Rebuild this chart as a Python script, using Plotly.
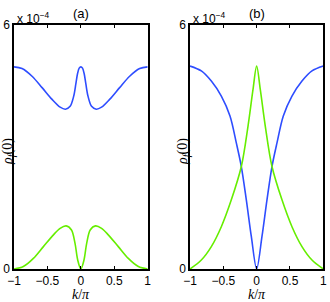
import plotly.graph_objects as go
from plotly.subplots import make_subplots

# Panel (a)
ka_blue = [-1, -0.88, -0.73, -0.58, -0.43, -0.31, -0.23, -0.16, -0.107, -0.075, -0.05, -0.025, 0,
           0.025, 0.05, 0.075, 0.107, 0.16, 0.23, 0.31, 0.43, 0.58, 0.73, 0.88, 1]
va_blue = [4.97, 4.93, 4.74, 4.46, 4.17, 3.98, 3.93, 4.00, 4.25, 4.55, 4.80, 4.94, 4.97,
           4.94, 4.80, 4.55, 4.25, 4.00, 3.93, 3.98, 4.17, 4.46, 4.74, 4.93, 4.97]
ka_green = [-1, -0.86, -0.71, -0.56, -0.41, -0.31, -0.22, -0.14, -0.087, -0.047, 0,
            0.047, 0.087, 0.14, 0.22, 0.31, 0.41, 0.56, 0.71, 0.86, 1]
va_green = [0.0, 0.06, 0.26, 0.55, 0.84, 1.00, 1.06, 0.96, 0.63, 0.22, 0.0,
            0.22, 0.63, 0.96, 1.06, 1.00, 0.84, 0.55, 0.26, 0.06, 0.0]

# Panel (b)
kb_blue = [-1, -0.83, -0.68, -0.53, -0.40, -0.305, -0.23, -0.155, -0.08, 0,
           0.08, 0.155, 0.23, 0.305, 0.40, 0.53, 0.68, 0.83, 1]
vb_blue = [4.99, 4.87, 4.62, 4.25, 3.76, 3.10, 2.52, 1.70, 0.80, 0.0,
           0.80, 1.70, 2.52, 3.10, 3.76, 4.25, 4.62, 4.87, 4.99]
kb_green = [-1, -0.83, -0.68, -0.53, -0.38, -0.23, -0.13, -0.055, 0,
            0.055, 0.13, 0.23, 0.38, 0.53, 0.68, 0.83, 1]
vb_green = [0.0, 0.22, 0.55, 1.04, 1.70, 2.52, 3.51, 4.41, 4.99,
            4.41, 3.51, 2.52, 1.70, 1.04, 0.55, 0.22, 0.0]

xtick_vals = [-1, -0.5, 0, 0.5, 1]
xtick_text = ["\u22121", "\u22120.5", "0", "0.5", "1"]
ytick_vals = [0, 6]
ytick_text = ["0", "6"]

BLUE = "#2e4dff"
GREEN = "#66ee00"

fig = make_subplots(rows=1, cols=2)
for col, (kbl, vbl, kgr, vgr) in enumerate(
        [(ka_blue, va_blue, ka_green, va_green), (kb_blue, vb_blue, kb_green, vb_green)], start=1):
    fig.add_trace(go.Scatter(x=kbl, y=vbl, mode="lines", line=dict(color=BLUE, width=1.6, shape="spline", smoothing=0.9),
                             showlegend=False), row=1, col=col)
    fig.add_trace(go.Scatter(x=kgr, y=vgr, mode="lines", line=dict(color=GREEN, width=1.6, shape="spline", smoothing=0.9),
                             showlegend=False), row=1, col=col)

W, H = 330, 302
ytop, ybot = 25, 269
dom_y = [1 - ybot / H, 1 - ytop / H]
fig.update_layout(
    width=W, height=H, margin=dict(l=0, r=0, t=0, b=0, autoexpand=False),
    paper_bgcolor="white", plot_bgcolor="white",
    font=dict(family="Liberation Sans, Arial", size=12, color="black"),
    xaxis=dict(domain=[14 / W, 147.7 / W]),
    xaxis2=dict(domain=[190 / W, 323.3 / W]),
    yaxis=dict(domain=dom_y),
    yaxis2=dict(domain=dom_y),
)
axis_common = dict(showline=True, linecolor="black", linewidth=1.5, mirror="ticks",
                   ticks="inside", ticklen=3, tickcolor="black", showgrid=False, zeroline=False,
                   automargin=False)
fig.update_xaxes(range=[-1, 1], tickvals=xtick_vals, ticktext=xtick_text, ticklabelstandoff=0, **axis_common)
fig.update_yaxes(range=[0, 6], tickvals=ytick_vals, ticktext=ytick_text, ticklabelstandoff=0, **axis_common)

ann_font = dict(family="Liberation Sans, Arial", size=12, color="black")
serif = dict(family="Liberation Serif, DejaVu Serif", size=14, color="black")
for x0, lab in [(14, "(a)"), (190, "(b)")]:
    cx = x0 + 66.8
    fig.add_annotation(xref="paper", yref="paper", x=cx / W, y=1 - 13 / H, text=lab, showarrow=False,
                       xanchor="center", yanchor="middle",
                       font=dict(family="Liberation Sans, Arial", size=13, color="black"))
    fig.add_annotation(xref="paper", yref="paper", x=(x0 + 1) / W, y=1 - 18 / H, xanchor="left", yanchor="middle",
                       text="x 10<sup>\u22124</sup>", showarrow=False, font=ann_font)
    fig.add_annotation(xref="paper", yref="paper", x=cx / W, y=1 - 294 / H, text="<i>k</i>/<i>\u03c0</i>",
                       xanchor="center", yanchor="middle", showarrow=False, font=serif)
for xc in [8, 183]:
    fig.add_annotation(xref="paper", yref="paper", x=xc / W, y=1 - 152 / H, textangle=-90,
                       xanchor="center", yanchor="middle",
                       text="<i>\u03c1<sub>f</sub></i>(0)", showarrow=False, font=serif)

fig.write_html("out.html", config={"displayModeBar": False},
               post_script="document.body.style.margin='0';document.body.style.overflow='hidden';")
